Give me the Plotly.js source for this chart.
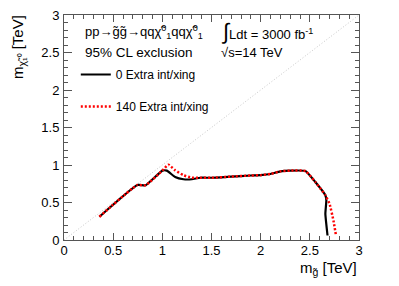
<!DOCTYPE html>
<html>
<head>
<meta charset="utf-8">
<script src="https://cdn.plot.ly/plotly-3.0.1.min.js"></script>
<style>html,body{margin:0;padding:0;background:#fff;}#chart{width:399px;height:286px;}</style>
</head>
<body>
<div id="chart"></div>
<script>
// 0 extra interactions per crossing
const mGluino0 = [0.36, 0.746, 0.83, 1.00, 1.045, 1.13, 1.215, 1.30, 1.385, 1.5, 1.7, 1.9, 2.0, 2.1, 2.2, 2.3, 2.455, 2.556, 2.658, 2.668, 2.658, 2.68];
const mLSP0    = [0.31, 0.733, 0.73, 0.925, 0.925, 0.84, 0.81, 0.81, 0.83, 0.83, 0.845, 0.86, 0.865, 0.88, 0.915, 0.925, 0.92, 0.773, 0.596, 0.53, 0.35, 0.06];
// 140 extra interactions per crossing
const mGluino140 = [0.36, 0.746, 0.83, 1.00, 1.062, 1.13, 1.215, 1.30, 1.385, 1.5, 1.7, 1.9, 2.0, 2.1, 2.2, 2.3, 2.455, 2.556, 2.658, 2.70, 2.74, 2.766];
const mLSP140    = [0.31, 0.733, 0.73, 0.925, 1.005, 0.93, 0.863, 0.83, 0.83, 0.83, 0.845, 0.86, 0.865, 0.88, 0.915, 0.925, 0.92, 0.773, 0.596, 0.485, 0.26, 0.06];
// kinematic diagonal
const diagX = [0, 3];
const diagY = [0, 3];
const legendNames = ["0 Extra int/xing", "140 Extra int/xing"];

const font = "Liberation Sans, Arial, Helvetica, sans-serif";

const traces = [
  {x: diagX, y: diagY, mode: "lines", line: {color: "#c8c8c8", width: 1, dash: "1px,2px"}, showlegend: false, hoverinfo: "skip"},
  {x: mGluino0, y: mLSP0, mode: "lines", name: legendNames[0], legendgroup: "a",
   line: {color: "#000", width: 2.2, shape: "spline", smoothing: 0.4}},
  {x: mGluino140, y: mLSP140, mode: "lines", name: legendNames[1], legendgroup: "b",
   line: {color: "#ff0000", width: 2.5, dash: "2px,2px", shape: "spline", smoothing: 0.4}}
];

const axisCommon = {
  range: [0, 3], dtick: 0.5, tick0: 0, ticks: "inside", mirror: "allticks",
  showline: true, linecolor: "#555", linewidth: 1, tickcolor: "#555",
  showgrid: false, zeroline: false, tickfont: {family: font, size: 13, color: "#000"},
  minor: {dtick: 0.1, ticks: "inside", ticklen: 4, tickcolor: "#555", showgrid: false},
  fixedrange: true
};

const layout = {
  width: 399, height: 286,
  margin: {l: 64, r: 40, t: 15, b: 46},
  paper_bgcolor: "#fff", plot_bgcolor: "#fff",
  font: {family: font, color: "#000"},
  showlegend: true,
  legend: {x: 0.04, y: 0.80, xanchor: "left", yanchor: "top", bgcolor: "rgba(0,0,0,0)",
           font: {family: font, size: 12, color: "#000"}, tracegroupgap: 13, itemwidth: 30},
  xaxis: Object.assign({}, axisCommon, {ticklen: 7, ticklabelstandoff: -2}),
  yaxis: Object.assign({}, axisCommon, {ticklen: 8, ticklabelstandoff: 1}),
  annotations: [
    {xref: "paper", yref: "paper", x: 1, y: -0.128, xanchor: "right", yanchor: "middle", showarrow: false,
     text: "m<sub>g̃</sub> [TeV]", font: {family: font, size: 15}},
    {xref: "paper", yref: "paper", x: -0.155, y: 1.01, xanchor: "center", yanchor: "top", showarrow: false, textangle: -90,
     text: "m<sub>χ̃₁⁰</sub> [TeV]", font: {family: font, size: 15}},
    {xref: "paper", yref: "paper", x: 0.065, y: 0.925, xanchor: "left", yanchor: "middle", showarrow: false,
     text: "pp→g̃g̃→qqχ̃<sup>0</sup><sub>1</sub>qqχ̃<sup>0</sup><sub>1</sub>", font: {family: font, size: 13}},
    {xref: "paper", yref: "paper", x: 0.065, y: 0.835, xanchor: "left", yanchor: "middle", showarrow: false,
     text: "95% CL exclusion", font: {family: font, size: 13.5}},
    {xref: "paper", yref: "paper", x: 0.525, y: 0.925, xanchor: "left", yanchor: "middle", showarrow: false,
     text: "<span style='font-size:22px'>∫</span>Ldt = 3000 fb<sup>-1</sup>", font: {family: font, size: 13}},
    {xref: "paper", yref: "paper", x: 0.525, y: 0.835, xanchor: "left", yanchor: "middle", showarrow: false,
     text: "√s=14 TeV", font: {family: font, size: 13}}
  ]
};

Plotly.newPlot("chart", traces, layout, {displayModeBar: false, staticPlot: true});
</script>
</body>
</html>
